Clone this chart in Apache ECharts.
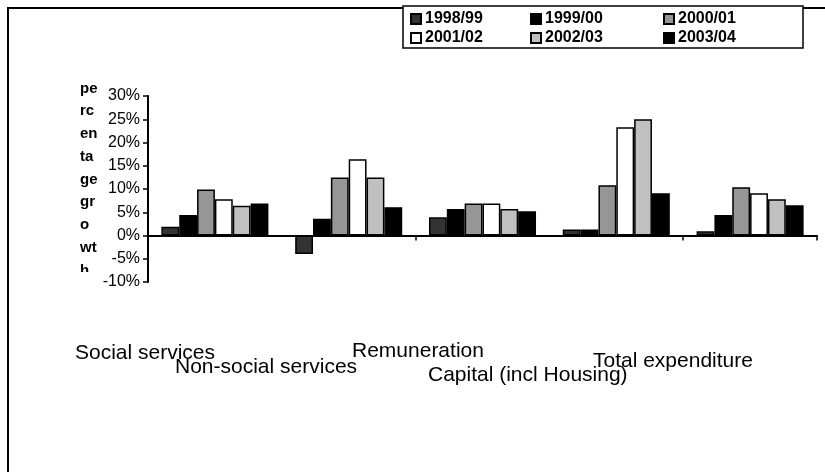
<!DOCTYPE html>
<html><head><meta charset="utf-8">
<script src="https://cdn.jsdelivr.net/npm/echarts@6/dist/echarts.min.js"></script>
<style>html,body{margin:0;padding:0;background:#fff}#c{width:825px;height:472px}</style>
</head><body><div id="c"></div>
<script>
// ---- data ----
const categories = ['Social services', 'Non-social services', 'Remuneration', 'Capital (incl Housing)', 'Total expenditure'];
const seriesNames = ['1998/99', '1999/00', '2000/01', '2001/02', '2002/03', '2003/04'];
const v1998_99 = [1.9, -4.0, 3.9, 1.3, 0.9];
const v1999_00 = [4.4, 3.6, 5.7, 1.3, 4.4];
const v2000_01 = [9.9, 12.5, 6.9, 10.8, 10.4];
const v2001_02 = [7.8, 16.4, 6.9, 23.3, 9.1];
const v2002_03 = [6.4, 12.5, 5.7, 25.0, 7.8];
const v2003_04 = [6.9, 6.1, 5.2, 9.1, 6.5];
const yMin = -10, yMax = 30, yInterval = 5;
const yTitleLines = ['pe', 'rc', 'en', 'ta', 'ge', 'gr', 'o', 'wt', 'h'];

// ---- styles / layout ----
const values = [v1998_99, v1999_00, v2000_01, v2001_02, v2002_03, v2003_04];
const colors = ['#333333', '#000000', '#969696', '#ffffff', '#c0c0c0', '#000000'];
const FONT = 'Liberation Sans, Arial, sans-serif';
const legendLeft = [410, 530, 663];
const legendTop = [11, 30];
const catLabelPos = [[75, 353], [175, 367], [352, 351], [428, 375], [593, 361]];

const chart = echarts.init(document.getElementById('c'));

const legends = seriesNames.map((n, i) => ({
  data: [n],
  left: legendLeft[i % 3],
  top: legendTop[Math.floor(i / 3)],
  padding: 0,
  icon: 'rect',
  itemWidth: 10,
  itemHeight: 10,
  itemGap: 0,
  selectedMode: false,
  textStyle: { fontFamily: FONT, fontWeight: 'bold', fontSize: 16, color: '#000', padding: [0, 0, 0, -1] }
}));

const graphics = [
  { type: 'rect', shape: { x: 8, y: 8, width: 840, height: 490 }, style: { fill: 'none', stroke: '#000', lineWidth: 2 }, silent: true, z: -10 },
  { type: 'rect', shape: { x: 403, y: 6, width: 400, height: 42 }, style: { fill: '#fff', stroke: '#000', lineWidth: 1.5 }, silent: true, z: -5 },
  { type: 'text', left: 80, top: 77, style: { text: yTitleLines.join('\n'), font: 'bold 15px ' + FONT, lineHeight: 22.75, fill: '#000' }, z: 1 },
  { type: 'rect', shape: { x: 72, y: 272, width: 30, height: 20 }, style: { fill: '#fff' }, z: 2, silent: true }
];
categories.forEach((c, i) => {
  graphics.push({ type: 'text', x: catLabelPos[i][0], y: catLabelPos[i][1],
    style: { text: c, font: '21px ' + FONT, fill: '#000', verticalAlign: 'middle', align: 'left' }, z: 3 });
});

chart.setOption({
  animation: false,
  backgroundColor: '#fff',
  legend: legends,
  graphic: graphics,
  grid: { left: 148, right: 8, top: 96, bottom: 190 },
  xAxis: {
    type: 'category',
    data: categories,
    axisLine: { onZero: true, lineStyle: { color: '#000', width: 2 } },
    axisTick: { show: true, alignWithLabel: false, length: 5, lineStyle: { color: '#000', width: 1.5 } },
    axisLabel: { show: false },
    splitLine: { show: false }
  },
  yAxis: {
    type: 'value',
    min: yMin, max: yMax, interval: yInterval,
    axisLine: { show: true, lineStyle: { color: '#000', width: 2 } },
    axisTick: { show: true, length: 5, lineStyle: { color: '#000', width: 1.5 } },
    axisLabel: { formatter: '{value}%', fontFamily: FONT, fontSize: 16, color: '#000', margin: 8, padding: [5, 0, 0, 0] },
    splitLine: { show: false }
  },
  series: seriesNames.map((n, i) => ({
    name: n,
    type: 'bar',
    data: values[i],
    barGap: '0%',
    barCategoryGap: '20%',
    itemStyle: { color: colors[i], borderColor: '#000', borderWidth: 1.5 }
  }))
});
</script></body></html>
